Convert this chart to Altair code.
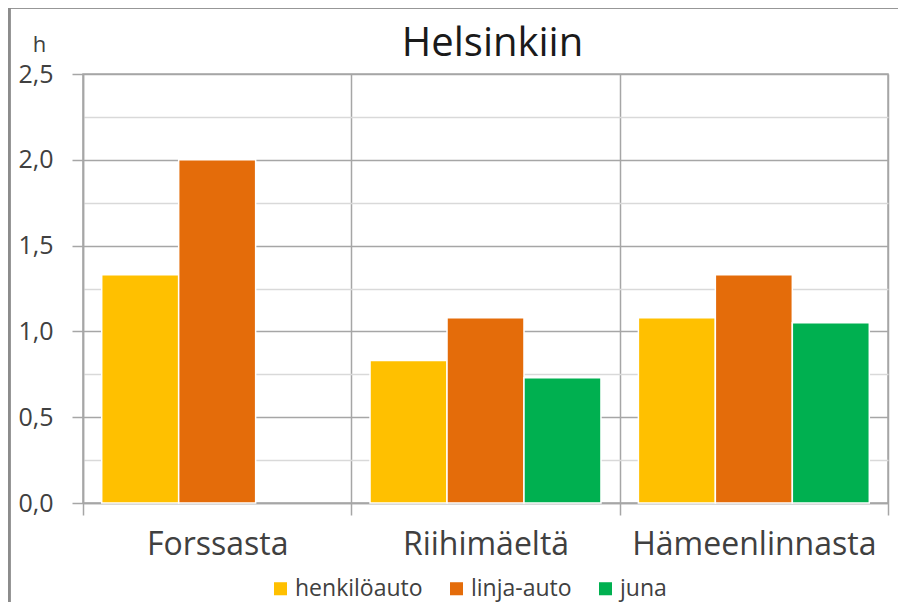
import altair as alt
import pandas as pd

categories = ["Forssasta", "Riihimäeltä", "Hämeenlinnasta"]
series = ["henkilöauto", "linja-auto", "juna"]
henkiloauto = [1.33, 0.83, 1.08]
linja_auto = [2.0, 1.08, 1.33]
juna = [None, 0.73, 1.05]
colors = ["#FFC000", "#E46C0A", "#00B050"]
y_ticks = [0, 0.25, 0.5, 0.75, 1.0, 1.25, 1.5, 1.75, 2.0, 2.25, 2.5]

rows = []
for i, c in enumerate(categories):
    for s, vals in zip(series, [henkiloauto, linja_auto, juna]):
        if vals[i] is not None:
            rows.append({"kohde": c, "kulkuneuvo": s, "aika": vals[i]})
df = pd.DataFrame(rows)

FONT = "Open Sans"
GRID_MAJOR = "#a6a6a6"
GRID_MINOR = "#d9d9d9"
major_test = "abs(datum.value*2 - round(datum.value*2)) < 0.001"

bars = alt.Chart(df).mark_bar(stroke="white", strokeWidth=1.5).encode(
    x=alt.X("kohde:N", sort=categories, title=None,
            scale=alt.Scale(paddingInner=0, paddingOuter=0),
            axis=alt.Axis(labelAngle=0, labelFontSize=32, labelColor="#404040",
                          labelFont=FONT, labelPadding=14, labelLimit=0, tickBand="extent",
                          tickSize=12, tickColor=GRID_MAJOR, domainColor=GRID_MAJOR,
                          grid=True, gridColor=GRID_MAJOR, gridWidth=1.5,
                          domainWidth=1.5, tickWidth=1.5)),
    xOffset=alt.XOffset("kulkuneuvo:N", sort=series,
                        scale=alt.Scale(domain=series, paddingInner=0, paddingOuter=0.243)),
    y=alt.Y("aika:Q", title="h",
            scale=alt.Scale(domain=[0, 2.5], nice=False),
            axis=alt.Axis(values=y_ticks,
                          labelExpr=f"({major_test}) ? replace(format(datum.value, '.1f'), '.', ',') : ''",
                          labelFontSize=25, labelColor="#404040", labelFont=FONT,
                          labelPadding=19,
                          tickSize=11,
                          tickColor={"condition": {"test": major_test, "value": GRID_MAJOR}, "value": "transparent"},
                          gridColor={"condition": {"test": major_test, "value": GRID_MAJOR}, "value": GRID_MINOR},
                          gridWidth=1.5, tickWidth=1.5,
                          domainColor=GRID_MAJOR, domainWidth=1.5,
                          titleAngle=0, titleX=-44, titleY=-30, titleAlign="center",
                          titleBaseline="middle", titleFontSize=22, titleFontWeight="normal",
                          titleColor="#404040", titleFont=FONT)),
    color=alt.Color("kulkuneuvo:N", sort=series,
                    scale=alt.Scale(domain=series, range=colors),
                    legend=alt.Legend(title=None, orient="none", direction="horizontal",
                                      legendX=186, legendY=503, symbolType="square",
                                      symbolSize=170, symbolStrokeWidth=0,
                                      labelFontSize=23, labelColor="#404040", labelFont=FONT,
                                      columnPadding=22, symbolOffset=0, labelOffset=3)),
)

border_left = alt.Chart(df).mark_rule(color="#8c8c8c", strokeWidth=2.5, clip=False).encode(
    x=alt.value(-74), y=alt.value(-67), y2=alt.value(560))
border_top = alt.Chart(df).mark_rule(color="#8c8c8c", strokeWidth=2.5, clip=False).encode(
    x=alt.value(-74), x2=alt.value(900), y=alt.value(-67))

chart = alt.layer(bars, border_left, border_top).properties(
    width=805, height=429,
    title=alt.TitleParams("Helsinkiin", fontSize=40, font=FONT, fontWeight="normal",
                          color="#1a1a1a", anchor="middle", offset=-58, dx=7),
    autosize=alt.AutoSizeParams(type="none"),
    padding={"left": 75, "top": 66, "right": 10, "bottom": 99},
).configure_view(stroke=GRID_MAJOR, strokeWidth=1.5)

chart.save("out.html", embed_options={"renderer": "svg", "actions": False})
